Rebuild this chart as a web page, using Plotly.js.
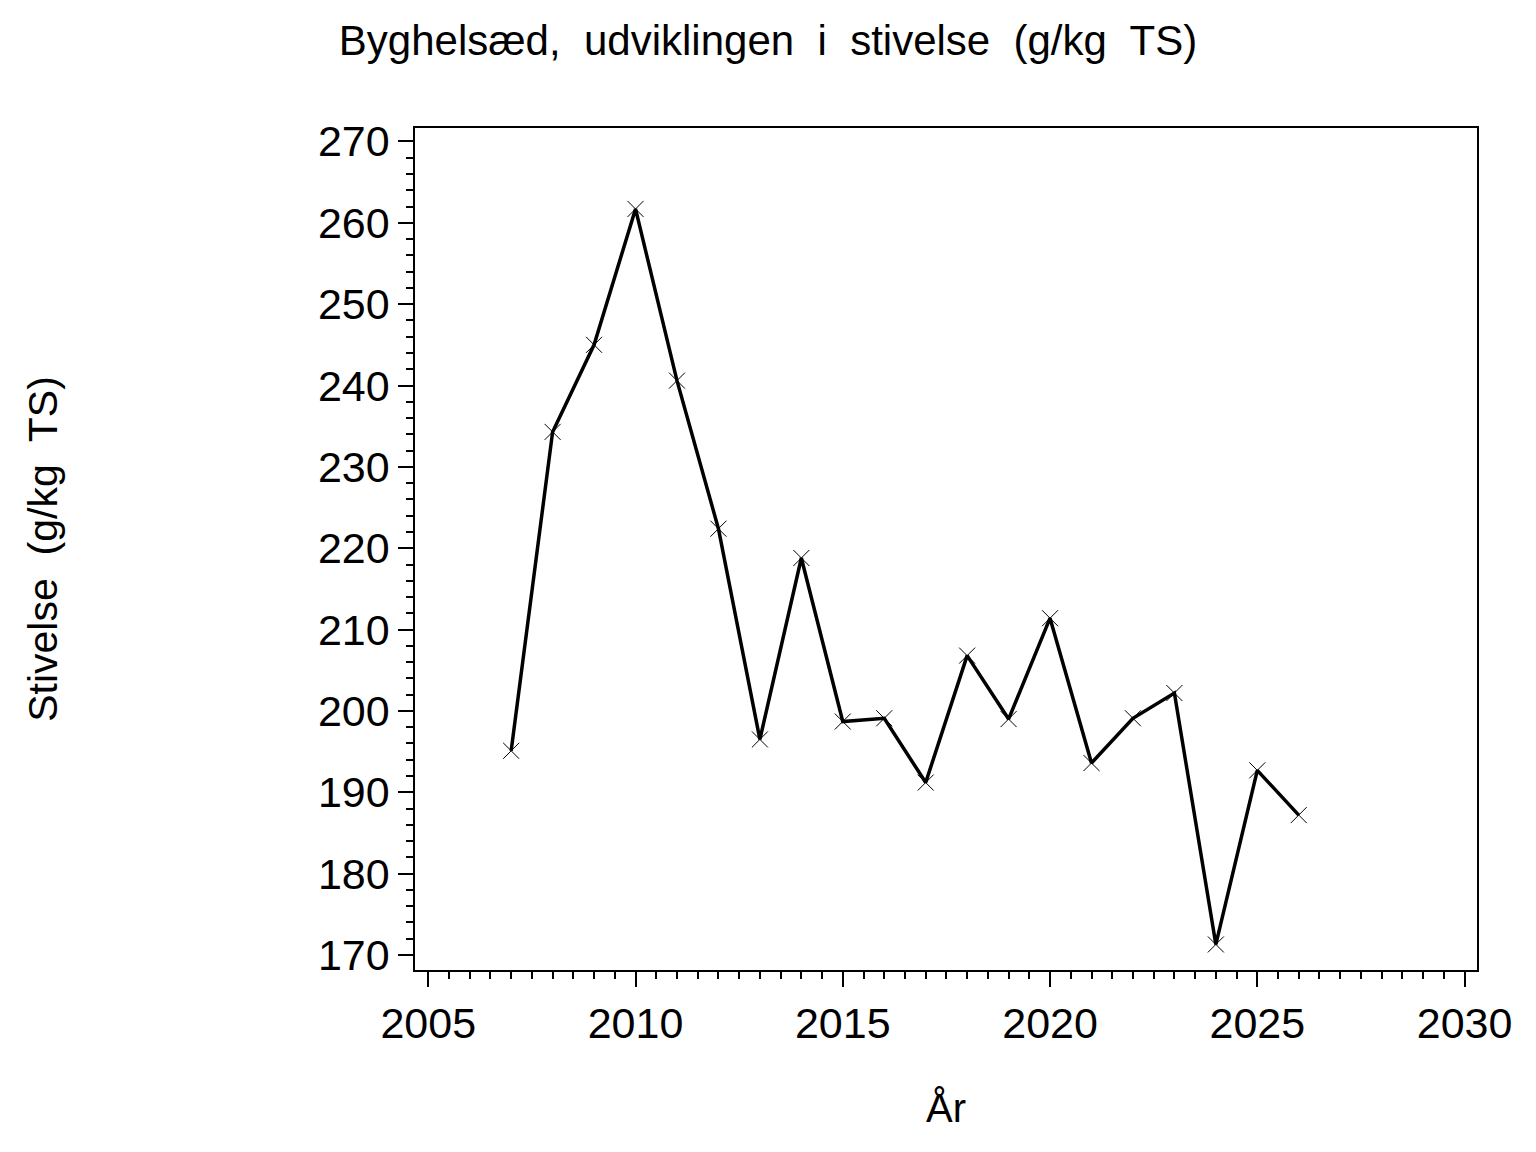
<!DOCTYPE html>
<html>
<head>
<meta charset="utf-8">
<script src="https://cdn.plot.ly/plotly-3.0.1.min.js"></script>
<style>
  html, body { margin: 0; padding: 0; background: #fff; }
  #chart { width: 1536px; height: 1152px; }
</style>
</head>
<body>
<div id="chart"></div>
<script>
// Yearly starch content for barley whole crop
const years = [2007, 2008, 2009, 2010, 2011, 2012, 2013, 2014, 2015, 2016,
               2017, 2018, 2019, 2020, 2021, 2022, 2023, 2024, 2025, 2026];
const stivelse = [195.1, 234.3, 245.0, 261.7, 240.6, 222.4, 196.5, 218.8, 198.7, 199.1,
                  191.2, 206.8, 199.0, 211.4, 193.6, 199.1, 202.2, 171.3, 192.7, 187.2];

const xTicks = [2005, 2010, 2015, 2020, 2025, 2030];
const yTicks = [170, 180, 190, 200, 210, 220, 230, 240, 250, 260, 270];

const sp = '\u00a0 ';
const titleText = ['Byghelsæd,', 'udviklingen', 'i', 'stivelse', '(g/kg', 'TS)'].join(sp);
const yTitle = ['Stivelse', '(g/kg', 'TS)'].join(sp);

const font = 'Arial, "Liberation Sans", sans-serif';

Plotly.newPlot('chart', [{
    type: 'scatter',
    mode: 'lines+markers',
    x: years,
    y: stivelse,
    line: { color: '#000', width: 3.5 },
    marker: { symbol: 'x-thin-open', size: 16, color: '#000', line: { width: 1, color: '#000' } },
    hoverinfo: 'x+y'
}], {
    width: 1536,
    height: 1152,
    paper_bgcolor: '#fff',
    plot_bgcolor: '#fff',
    font: { family: font, color: '#000' },
    margin: { l: 415, r: 59, t: 128, b: 182 },
    showlegend: false,
    title: {
        text: titleText,
        font: { size: 42, family: font, color: '#000' },
        x: 0.5, xref: 'container', xanchor: 'center',
        y: 1 - 40 / 1152, yref: 'container', yanchor: 'middle'
    },
    xaxis: {
        range: [2004.68, 2030.3],
        tickvals: xTicks,
        ticktext: xTicks.map(String),
        ticks: 'outside', ticklen: 15, tickwidth: 1.5, tickcolor: '#000',
        minor: { dtick: 0.5, tick0: 2005, ticks: 'outside', ticklen: 7, tickwidth: 1.5, tickcolor: '#000' },
        showline: true, linecolor: '#000', linewidth: 1.5, mirror: true,
        showgrid: false, zeroline: false,
        tickfont: { size: 43, family: font },
        title: { text: 'År', font: { size: 40, family: font }, standoff: 48 }
    },
    yaxis: {
        range: [168.16, 271.65],
        tickvals: yTicks,
        ticktext: yTicks.map(String),
        ticks: 'outside', ticklen: 15, tickwidth: 1.5, tickcolor: '#000',
        minor: { dtick: 2, tick0: 170, ticks: 'outside', ticklen: 7, tickwidth: 1.5, tickcolor: '#000' },
        showline: true, linecolor: '#000', linewidth: 1.5, mirror: true,
        showgrid: false, zeroline: false,
        tickfont: { size: 43, family: font },
        title: { text: yTitle, font: { size: 41, family: font }, standoff: 248 }
    }
}, { displayModeBar: false, responsive: false });
</script>
</body>
</html>
